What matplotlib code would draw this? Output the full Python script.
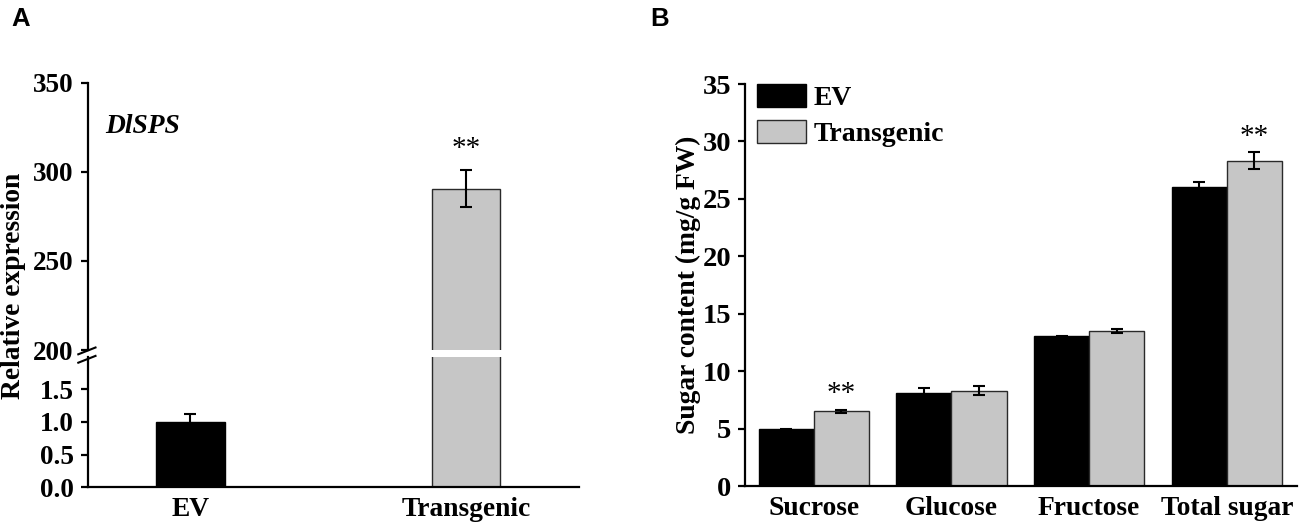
import matplotlib
matplotlib.use('Agg')
import matplotlib.pyplot as plt
from matplotlib.lines import Line2D
import numpy as np

# ---------------- data ----------------
# Panel A
a_groups = ['EV', 'Transgenic']
a_values = [1.0, 290.5]
a_errors = [0.12, 10.3]
a_sig = ['', '**']
a_yticks_low = [0.0, 0.5, 1.0, 1.5]
a_yticks_high = [200, 250, 300, 350]
a_gene = 'DlSPS'

# Panel B
b_categories = ['Sucrose', 'Glucose', 'Fructose', 'Total sugar']
b_ev = [4.93, 8.09, 13.02, 26.07]
b_ev_err = [0.06, 0.47, 0.06, 0.37]
b_tg = [6.49, 8.31, 13.48, 28.32]
b_tg_err = [0.13, 0.43, 0.18, 0.72]
b_sig = ['**', '', '', '**']
b_yticks = [0, 5, 10, 15, 20, 25, 30, 35]
series_names = ['EV', 'Transgenic']

# ---------------- style ----------------
W, H = 1299, 527
BLACK = '#000000'
GRAY = '#C6C6C6'
EDGE = '#2a2a2a'
SERIF = ['Liberation Serif', 'DejaVu Serif']
SANS = ['Liberation Sans', 'DejaVu Sans']
plt.rcParams['font.family'] = SERIF
plt.rcParams['font.weight'] = 'bold'

fig = plt.figure(figsize=(W / 100, H / 100), dpi=100)


def rect(l, t, r, b):
    return [l / W, 1 - b / H, (r - l) / W, (b - t) / H]


def px(x, y):
    return (x / W, 1 - y / H)


axAlo = fig.add_axes(rect(87.7, 356.5, 579, 487.3))
axAhi = fig.add_axes(rect(87.7, 82.7, 579, 350))
axB = fig.add_axes(rect(745, 84, 1297, 486))

SPINE_LW = 1.6
for ax in (axAlo, axAhi, axB):
    for s in ax.spines.values():
        s.set_linewidth(SPINE_LW)
    ax.spines['top'].set_visible(False)
    ax.spines['right'].set_visible(False)
    ax.tick_params(axis='y', direction='out', length=5, width=SPINE_LW, pad=5)
    ax.tick_params(axis='x', length=0, pad=7)
    ax.patch.set_alpha(0)

# ---------------- Panel A ----------------
xa = np.arange(len(a_groups))
a_colors = [BLACK, GRAY]
a_edges = [BLACK, EDGE]
for ax in (axAlo, axAhi):
    ax.bar(xa, a_values, width=0.25, color=a_colors, edgecolor=a_edges, linewidth=1.0)
    ax.errorbar(xa, a_values, yerr=a_errors, fmt='none', ecolor='black',
                elinewidth=1.5, capsize=4, capthick=1.5)
    ax.set_xlim(-0.373, 1.41)

axAlo.set_ylim(0, 2.0)
axAlo.set_yticks(a_yticks_low)
axAlo.set_yticklabels([f'{v:.1f}' for v in a_yticks_low], fontsize=19.5, fontweight='bold')
axAlo.set_xticks(xa)
axAlo.set_xticklabels(a_groups, fontsize=19.8, fontweight='bold')

axAhi.set_ylim(200, 350)
axAhi.set_yticks(a_yticks_high)
axAhi.set_yticklabels([str(v) for v in a_yticks_high], fontsize=19.5, fontweight='bold')
axAhi.spines['bottom'].set_visible(False)
axAhi.set_xticks([])

for i, s in enumerate(a_sig):
    if s:
        axAhi.text(xa[i], a_values[i] + a_errors[i] + 12, s, ha='center', va='center',
                   fontsize=21, fontweight='normal')

axAhi.text(-0.31, 321.6, a_gene, ha='left', va='baseline', fontsize=19.8,
           fontstyle='italic', fontweight='bold')

# axis break marks
for (x0, y0, x1, y1) in [(78.3, 354.3, 95.5, 347.5), (78.3, 362.7, 95.5, 355.9)]:
    fig.add_artist(Line2D([x0 / W, x1 / W], [1 - y0 / H, 1 - y1 / H],
                          transform=fig.transFigure, color='black', lw=1.5))

fig.text(*px(14, 286), 'Relative expression', rotation=90, ha='center', va='center',
         fontsize=19.8, fontweight='bold')

# ---------------- Panel B ----------------
xb = np.arange(len(b_categories))
bw = 0.4
b1 = axB.bar(xb - bw / 2, b_ev, width=bw, color=BLACK, edgecolor=BLACK, linewidth=1.0,
             label=series_names[0])
b2 = axB.bar(xb + bw / 2, b_tg, width=bw, color=GRAY, edgecolor=EDGE, linewidth=1.0,
             label=series_names[1])
axB.errorbar(xb - bw / 2, b_ev, yerr=b_ev_err, fmt='none', ecolor='black',
             elinewidth=1.5, capsize=4, capthick=1.5)
axB.errorbar(xb + bw / 2, b_tg, yerr=b_tg_err, fmt='none', ecolor='black',
             elinewidth=1.5, capsize=4, capthick=1.5)
for i, s in enumerate(b_sig):
    if s:
        axB.text(xb[i] + bw / 2, b_tg[i] + b_tg_err[i] + 1.35, s, ha='center', va='center',
                 fontsize=21, fontweight='normal')

axB.set_xlim(-0.5, 3.51)
axB.set_ylim(0, 35)
axB.set_yticks(b_yticks)
axB.set_yticklabels([str(v) for v in b_yticks], fontsize=20.5, fontweight='bold')
axB.set_xticks(xb)
axB.set_xticklabels(b_categories, fontsize=19.8, fontweight='bold')

leg = axB.legend(handles=[b1, b2], loc='upper left', bbox_to_anchor=(0.0223, 1.0),
                 frameon=False, fontsize=20, handlelength=1.75, handleheight=0.92,
                 handletextpad=0.27, labelspacing=0.3, borderpad=0, borderaxespad=0)
for t in leg.get_texts():
    t.set_fontweight('bold')

fig.text(*px(688, 285), 'Sugar content (mg/g FW)', rotation=90, ha='center', va='center',
         fontsize=19.8, fontweight='bold')

# panel letters
fig.text(*px(11.5, 7.5), 'A', ha='left', va='top', fontsize=18.5, fontweight='bold', family=SANS)
fig.text(*px(650, 7.5), 'B', ha='left', va='top', fontsize=18.5, fontweight='bold', family=SANS)

fig.savefig('out.png', dpi=100)
